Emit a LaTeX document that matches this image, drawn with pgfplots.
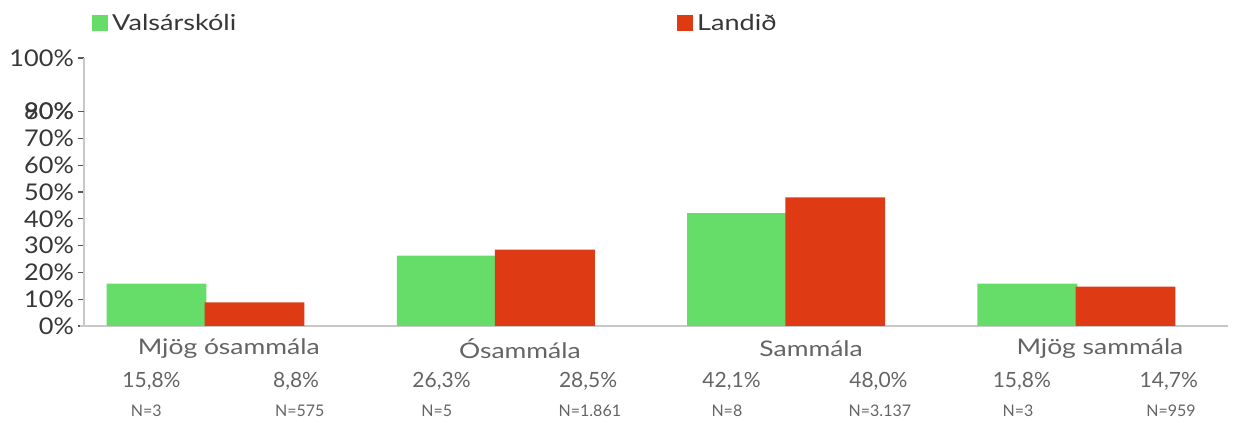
\documentclass[border=0pt]{standalone}
\usepackage{fontspec}
\setmainfont{Lato}
\newfontfamily\widefont{Lato}[FakeStretch=1.23]
\newfontfamily\midfont{Lato}[FakeStretch=1.1]
\usepackage{pgfplots}
\pgfplotsset{compat=1.18}
\definecolor{cgreen}{RGB}{102,221,104}
\definecolor{cred}{RGB}{222,58,20}
\definecolor{axgray}{RGB}{200,200,200}
\definecolor{txt}{RGB}{55,55,55}
\definecolor{txtb}{RGB}{100,100,100}
\begin{document}
\begin{tikzpicture}[x=1pt,y=1pt]
\useasboundingbox (0,0) rectangle (1235,423);
\begin{axis}[
  at={(84pt,97pt)}, anchor=south west,
  scale only axis, width=1144pt, height=268pt,
  xmin=-0.4185, xmax=3.522, ymin=0, ymax=100,
  axis x line*=bottom, axis y line*=left,
  axis line style={draw=axgray, line width=2.5pt, -},
  /pgf/number format/assume math mode=true,
  ytick={0,10,...,80,100},
  yticklabel={\pgfmathprintnumber{\tick}\%},
  extra y ticks={80}, extra y tick labels={90\%},
  xtick=\empty,
  tick align=outside, major tick length=6pt,
  tick style={draw=black!65, line width=1.2pt},
  yticklabel style={font=\midfont\fontsize{23}{23}\selectfont, text=txt, inner sep=0pt, xshift=-4pt},
  clip=false,
  ybar, bar width=0.344,
  legend columns=2,
  legend style={at={(rel axis cs:0.007,1.1306)}, anchor=west, draw=none, fill=none,
    inner sep=0pt, font=\widefont\fontsize{22}{22}\selectfont, text=txt,
    /tikz/every even column/.append style={column sep=437pt},
    nodes={inner sep=0pt, inner xsep=4pt}},
  legend image code/.code={\fill[#1] (0pt,-8pt) rectangle (16pt,8pt);},
]
\addplot[fill=cgreen, draw=none, bar shift=-0.169] coordinates {(0,15.8) (1,26.3) (2,42.1) (3,15.8)};
\addlegendentry{Valsárskóli}
\addplot[fill=cred, draw=none, bar shift=0.169] coordinates {(0,8.8) (1,28.5) (2,48.0) (3,14.7)};
\addlegendentry{Landið}

\draw[axgray, line width=2.5pt] (axis cs:-0.432,0) -- (axis cs:-0.4185,0);

\tikzset{cat/.style={font=\widefont\fontsize{21.5}{21.5}\selectfont, text=txtb},
         pct/.style={font=\fontsize{21}{21}\selectfont, text=txtb},
         nn/.style={font=\fontsize{16}{16}\selectfont, text=txtb}}
\node[cat] at (axis cs:0.08,-8.4) {Mjög ósammála};
\node[cat] at (axis cs:1.083,-8.4) {Ósammála};
\node[cat] at (axis cs:2.086,-8.4) {Sammála};
\node[cat] at (axis cs:3.081,-8.4) {Mjög sammála};

\node[pct] at (axis cs:-0.186,-20.6) {15,8\%};
\node[pct] at (axis cs:0.312,-20.6) {8,8\%};
\node[pct] at (axis cs:0.813,-20.6) {26,3\%};
\node[pct] at (axis cs:1.318,-20.6) {28,5\%};
\node[pct] at (axis cs:1.812,-20.6) {42,1\%};
\node[pct] at (axis cs:2.318,-20.6) {48,0\%};
\node[pct] at (axis cs:2.812,-20.6) {15,8\%};
\node[pct] at (axis cs:3.318,-20.6) {14,7\%};

\node[nn] at (axis cs:-0.204,-31.8) {N=3};
\node[nn] at (axis cs:0.325,-31.8) {N=575};
\node[nn] at (axis cs:0.797,-31.8) {N=5};
\node[nn] at (axis cs:1.324,-31.8) {N=1.861};
\node[nn] at (axis cs:1.796,-31.8) {N=8};
\node[nn] at (axis cs:2.323,-31.8) {N=3.137};
\node[nn] at (axis cs:2.799,-31.8) {N=3};
\node[nn] at (axis cs:3.326,-31.8) {N=959};
\end{axis}
\end{tikzpicture}
\end{document}
